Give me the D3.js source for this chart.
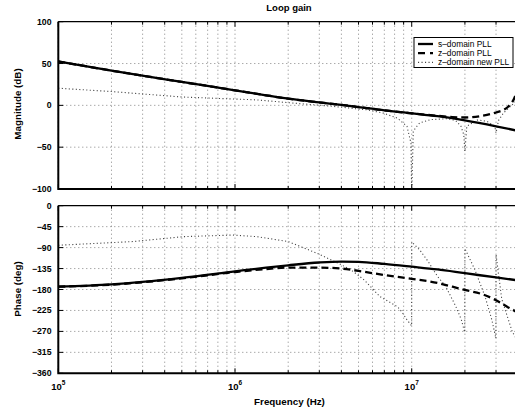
<!DOCTYPE html>
<html>
<head>
<meta charset="utf-8">
<script src="https://cdn.jsdelivr.net/npm/d3@7"></script>
<style>
body { margin: 0; background: #fff; }
text { font-family: "Liberation Sans", Arial, sans-serif; }
</style>
</head>
<body>
<svg width="515" height="410"></svg>
<script>
const freqS = [1e5, 2e5, 5e5, 1e6, 1.5e6, 2e6, 3e6, 4e6, 5e6, 7e6, 1e7, 1.4e7, 2e7, 3e7, 4.1e7];
const magS = [52.5, 41.5, 28, 18, 12, 8, 3.5, 0.5, -2, -6, -9.5, -13, -18, -25, -31];
const phaseS = [-174, -169, -155, -141, -133, -128, -122, -120, -120.5, -125, -131, -137, -145, -154, -161];

const freqZ = [1e5, 2e5, 5e5, 1e6, 1.5e6, 2e6, 3e6, 4e6, 5e6, 7e6, 1e7, 1.4e7, 1.7e7, 2e7, 2.5e7, 3e7, 3.5e7, 3.9e7, 4.1e7];
const magZ = [52.5, 41.5, 28, 18, 12, 8, 3.5, 0.5, -2, -6, -9.5, -12.5, -14, -14.5, -12.5, -8.5, -2, 14, 30];
const phaseZ = [-174, -169.5, -156, -142.5, -136, -133, -133, -135, -140, -149, -157, -166, -174, -181, -190, -203, -218, -228, -235];

const freqNewMag = [1e5, 2e5, 5e5, 1e6, 1.33e6, 2.34e6, 3.5e6, 5.6e6, 6.9e6, 8.3e6, 9.4e6, 9.9e6, 1e7, 1.02e7,
                    1.07e7, 1.11e7, 1.28e7, 1.58e7, 1.77e7, 1.9e7, 1.97e7, 2e7, 2.05e7, 2.35e7, 2.66e7, 2.9e7,
                    2.97e7, 3e7, 3.1e7, 3.3e7, 3.7e7, 4.1e7];
const magNew = [20.5, 16.5, 10, 7.5, 6.5, 2, -1, -5.4, -9.3, -15.3, -25, -45, -110, -31,
                -25, -21, -17, -16, -18, -25, -35, -55, -25, -17.5, -19, -24,
                -28, -33, -18, -9.3, 0.6, 10];

const freqNewPh = [1e5, 2.65e5, 5.1e5, 9.7e5, 1.33e6, 2e6, 2.9e6, 4e6, 4.5e6, 5e6, 5.4e6, 5.95e6, 6.6e6, 7.4e6,
                   8.3e6, 8.8e6, 9.4e6, 9.99e6, 1e7, 1.11e7, 1.24e7, 1.4e7, 1.55e7, 1.77e7, 1.91e7, 1.995e7,
                   2e7, 2.28e7, 2.6e7, 2.84e7, 2.995e7, 3e7, 3.23e7, 3.7e7, 4.1e7];
const phaseNew = [-85, -77, -66.5, -63, -66.5, -77, -102, -127, -137, -150, -160, -177, -195, -206,
                  -217, -228, -245, -258, -78, -95, -120, -152, -172, -215, -245, -272,
                  -92, -138, -195, -245, -285, -105, -200, -270, -300];

const magTicks = [-100, -50, 0, 50, 100];
const phaseTicks = [-360, -315, -270, -225, -180, -135, -90, -45, 0];
const decades = [1e5, 1e6, 1e7];
const legendNames = ['s\u2013domain PLL', 'z\u2013domain PLL', 'z\u2013domain new PLL'];

const svg = d3.select('svg');
const X0 = 58.3, X1 = 520;
const x = d3.scaleLog().domain([1e5, 4.1e7]).range([X0, X1]);
const yMag = d3.scaleLinear().domain([-100, 100]).range([189, 21.7]);
const yPh = d3.scaleLinear().domain([-360, 0]).range([373.3, 205.7]);

const styles = [
    {w: 2.3, dash: null, col: '#000'},
    {w: 2.3, dash: '7,4', col: '#000'},
    {w: 1.1, dash: '1.1,2.4', col: '#444'}
];

// all 1..9 x 10^k inside the domain
const minor = [];
decades.forEach(d => { for (let k = 1; k < 10; k++) { const v = d * k; if (v <= 4.1e7) minor.push(v); } });

function fmt(v){ return v < 0 ? '\u2212' + Math.abs(v) : '' + v; }

function panel(y, ticks, id){
    const top = y.range()[1], bot = y.range()[0];
    const g = svg.append('g');

    g.append('clipPath').attr('id', id).append('rect')
        .attr('x', X0).attr('y', top).attr('width', X1 - X0).attr('height', bot - top);

    // grid
    g.selectAll('.vg').data(minor).enter().append('line')
        .attr('x1', d => x(d)).attr('x2', d => x(d)).attr('y1', top).attr('y2', bot)
        .attr('stroke', '#666').attr('stroke-width', 0.8).attr('stroke-dasharray', '1,3');
    g.selectAll('.hg').data(ticks.slice(1, -1)).enter().append('line')
        .attr('x1', X0).attr('x2', X1).attr('y1', d => y(d)).attr('y2', d => y(d))
        .attr('stroke', '#666').attr('stroke-width', 0.8).attr('stroke-dasharray', '1,3');

    // ticks, inward
    g.selectAll('.xt').data(minor).enter().append('path')
        .attr('d', d => {
            const L = decades.includes(d) ? 5 : 3;
            return `M${x(d)},${bot}v${-L}M${x(d)},${top}v${L}`;
        })
        .attr('stroke', '#000').attr('stroke-width', 1);
    g.selectAll('.yt').data(ticks).enter().append('path')
        .attr('d', d => `M${X0},${y(d)}h5M${X1},${y(d)}h-5`)
        .attr('stroke', '#000').attr('stroke-width', 1);

    g.selectAll('.yl').data(ticks).enter().append('text')
        .attr('x', 51.5).attr('y', d => y(d) + 3)
        .attr('text-anchor', 'end').attr('font-size', 8.7).attr('font-weight', 'bold')
        .text(fmt);

    const plot = g.append('g').attr('clip-path', `url(#${id})`);

    // frame
    g.append('path').attr('d', `M${X0},${top}H${X1}M${X1},${bot}V${top}`)
        .attr('stroke', '#000').attr('stroke-width', 1.2).attr('fill', 'none');
    g.append('path').attr('d', `M${X0},${top}V${bot}H${X1}`)
        .attr('stroke', '#000').attr('stroke-width', 2).attr('fill', 'none');
    return plot;
}

function curve(plot, y, fs, vs, st, smooth){
    const line = d3.line().x(d => x(d[0])).y(d => y(d[1]))
        .curve(smooth ? d3.curveMonotoneX : d3.curveLinear);
    plot.append('path').datum(d3.zip(fs, vs)).attr('d', line)
        .attr('fill', 'none').attr('stroke', st.col).attr('stroke-width', st.w)
        .attr('stroke-dasharray', st.dash);
}

const pm = panel(yMag, magTicks, 'clipMag');
curve(pm, yMag, freqNewMag, magNew, styles[2], false);
curve(pm, yMag, freqZ, magZ, styles[1], true);
curve(pm, yMag, freqS, magS, styles[0], true);

const pp = panel(yPh, phaseTicks, 'clipPh');
curve(pp, yPh, freqNewPh, phaseNew, styles[2], false);
curve(pp, yPh, freqZ, phaseZ, styles[1], true);
curve(pp, yPh, freqS, phaseS, styles[0], true);

// x tick labels 10^k
const xl = svg.selectAll('.xl').data(decades).enter().append('text')
    .attr('x', d => x(d)).attr('y', 390).attr('text-anchor', 'middle')
    .attr('font-size', 9.5).attr('font-weight', 'bold');
xl.append('tspan').text('10');
xl.append('tspan').attr('dy', -5).attr('font-size', 6.5).text(d => Math.round(Math.log10(d)));

// titles
svg.append('text').attr('x', 289).attr('y', 10.5).attr('text-anchor', 'middle')
    .attr('font-size', 9.5).attr('font-weight', 'bold').text('Loop gain');
svg.append('text').attr('x', 289.5).attr('y', 405).attr('text-anchor', 'middle')
    .attr('font-size', 9.8).attr('font-weight', 'bold').text('Frequency (Hz)');
svg.append('text').attr('transform', 'translate(21,104) rotate(-90)').attr('text-anchor', 'middle')
    .attr('font-size', 9.8).attr('font-weight', 'bold').text('Magnitude (dB)');
svg.append('text').attr('transform', 'translate(21,289) rotate(-90)').attr('text-anchor', 'middle')
    .attr('font-size', 9.8).attr('font-weight', 'bold').text('Phase (deg)');

// legend
const lg = svg.append('g');
lg.append('rect').attr('x', 414).attr('y', 37.5).attr('width', 99).attr('height', 30)
    .attr('fill', '#fff').attr('stroke', '#000').attr('stroke-width', 1);
const rows = lg.selectAll('.row').data(legendNames).enter().append('g')
    .attr('transform', (d, i) => `translate(0,${44 + i * 9.2})`);
rows.append('line').attr('x1', 418).attr('x2', 433).attr('y1', 0).attr('y2', 0)
    .attr('stroke', (d, i) => styles[i].col).attr('stroke-width', (d, i) => styles[i].w)
    .attr('stroke-dasharray', (d, i) => i === 1 ? '7,5' : styles[i].dash);
rows.append('text').attr('x', 438).attr('y', 3).attr('font-size', 8.4).text(d => d);
</script>
</body>
</html>
